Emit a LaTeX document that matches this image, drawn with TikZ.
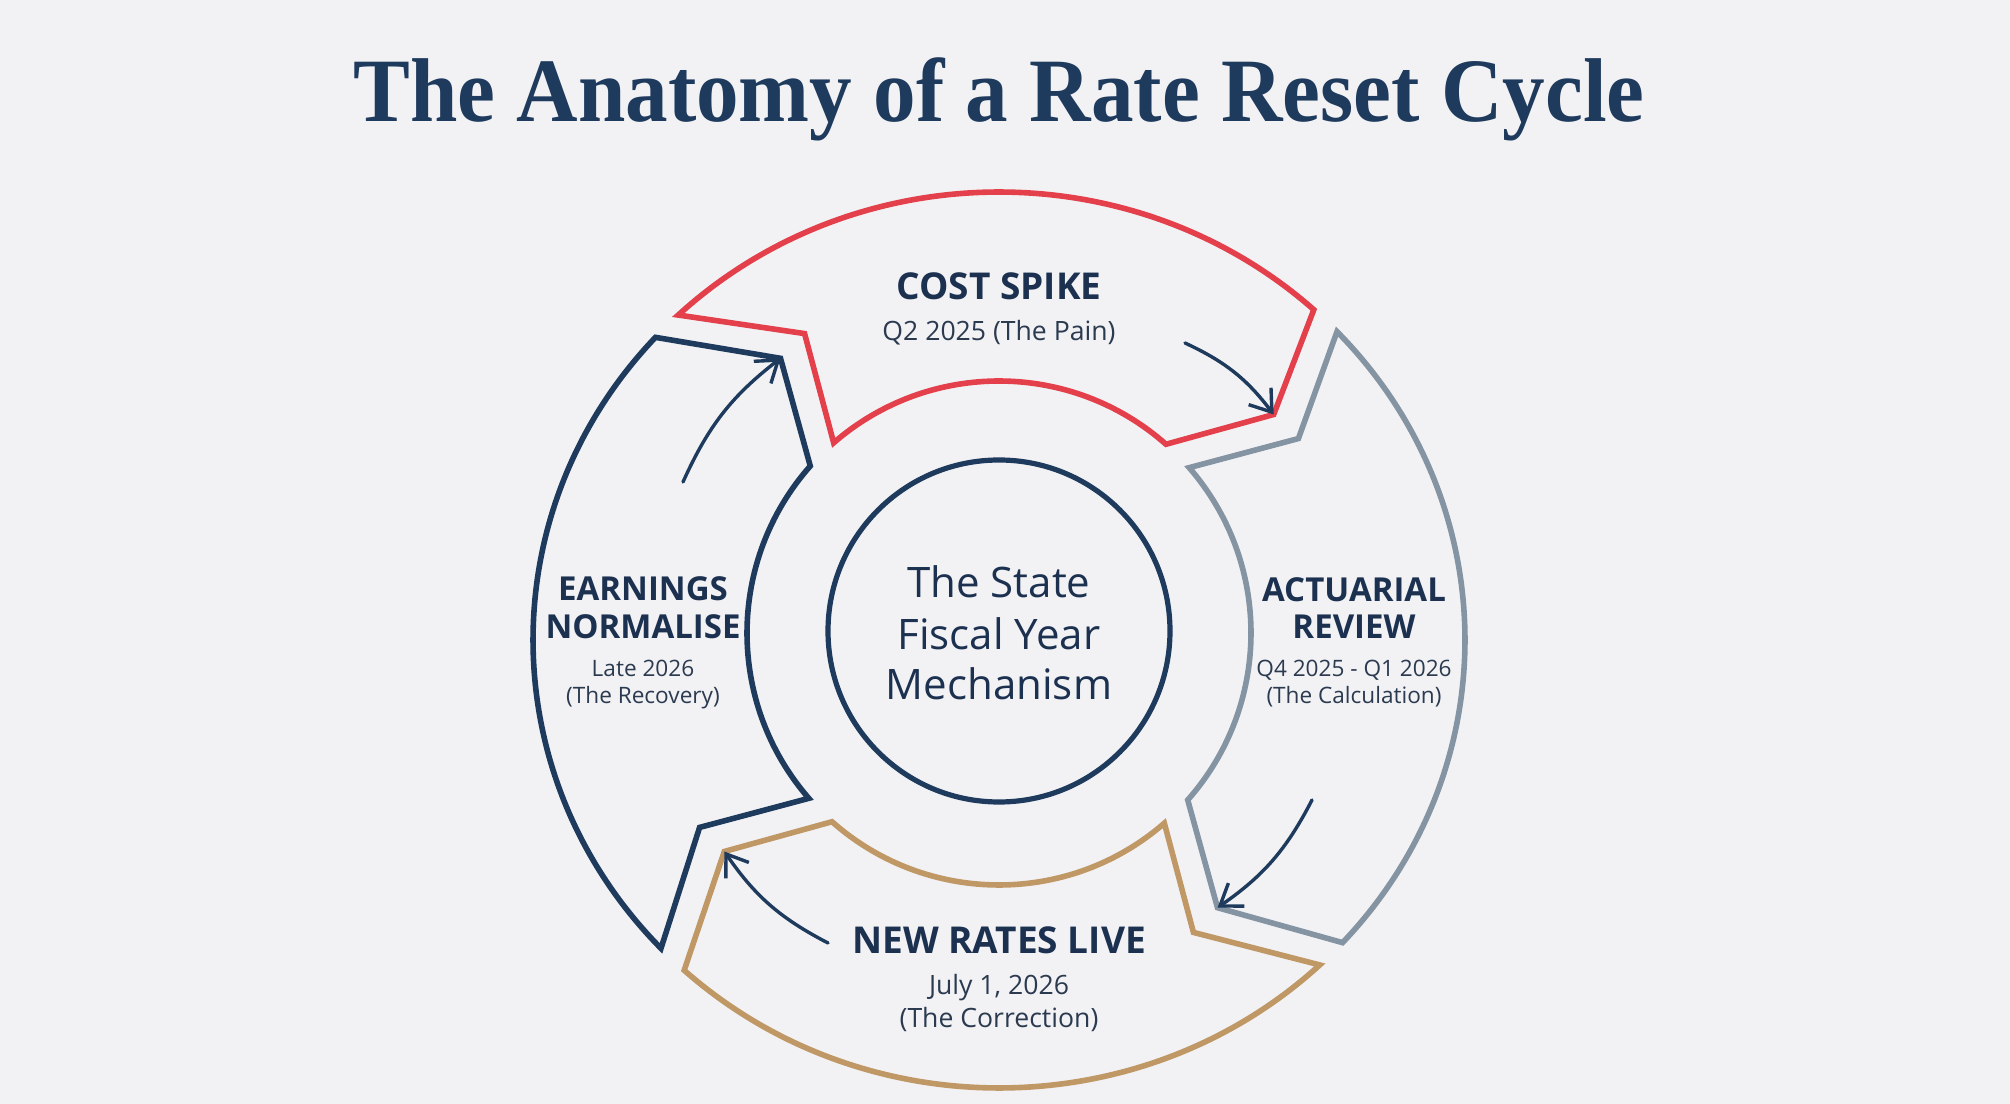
\documentclass[tikz,border=0pt]{standalone}
\usepackage{fontspec}
\setmainfont{Liberation Serif}
\newfontfamily\notosans{Open Sans}
\usetikzlibrary{arrows.meta}
\definecolor{bgc}{HTML}{F2F2F5}
\definecolor{navy}{HTML}{1E3A5C}
\definecolor{redc}{HTML}{E3404B}
\definecolor{grayc}{HTML}{8494A3}
\definecolor{goldc}{HTML}{BF9866}
\definecolor{txt}{HTML}{1C3150}
\definecolor{subtxt}{HTML}{2B3A4F}
\newcommand\ringseg[2]{%
  \draw[seg, draw=#2]
    ({999+466*cos(#1+42.5)},{464+448*sin(#1+42.5)})
    arc[start angle=#1+42.5, end angle=#1-43.5, x radius=466, y radius=448]
    -- ({999+351*cos(#1-52.5)},{471+351*sin(#1-52.5)})
    -- ({999+252*cos(#1-42.5)},{471+252*sin(#1-42.5)})
    arc[start angle=#1-42.5, end angle=#1+40, radius=252]
    -- ({999+357*cos(#1+32)},{471+357*sin(#1+32)})
    -- cycle;}
\begin{document}
\begin{tikzpicture}[x=0.5pt,y=0.5pt,
  seg/.style={line width=2.8pt, line join=miter, fill=bgc},
  flowarrow/.style={draw=navy, line width=1.7pt, line cap=round,
    -{Straight Barb[length=10pt,width=14pt]}},
  ttl/.style={font=\fontsize{45.3}{50}\selectfont\bfseries, text=navy, anchor=base, inner sep=0pt},
  bighead/.style={font=\notosans\bfseries\fontsize{18.5}{22}\selectfont, text=txt, anchor=base, inner sep=0pt},
  sidehead/.style={font=\notosans\bfseries\fontsize{16.5}{20}\selectfont, text=txt, anchor=base, inner sep=0pt},
  bigsub/.style={font=\notosans\fontsize{13.3}{16}\selectfont, text=subtxt, anchor=base, inner sep=0pt},
  sidesub/.style={font=\notosans\fontsize{11.3}{14}\selectfont, text=subtxt, anchor=base, inner sep=0pt},
  centertxt/.style={font=\notosans\fontsize{21}{25}\selectfont, text=txt, anchor=base, inner sep=0pt}
]
\useasboundingbox (0,0) rectangle (2010,1104);
\fill[bgc] (0,0) rectangle (2010,1104);

% title
\node[ttl] (title) at (999,982) {\scalebox{0.94}[1]{The Anatomy of a Rate Reset Cycle}};

% ring segments
\ringseg{91}{redc}
\ringseg{1}{grayc}
\ringseg{-89}{goldc}
\ringseg{-179}{navy}

% centre circle
\node[draw=navy, line width=2.6pt, circle, minimum size=342pt*0.5, inner sep=0pt] (hub) at (999,473) {};
\node[centertxt] (hub1) at (999,506) {The State};
\node[centertxt] (hub2) at (999,454) {Fiscal Year};
\node[centertxt] (hub3) at (999,404) {Mechanism};

% labels: top
\node[bighead] (costh) at (999,804) {COST SPIKE};
\node[bigsub] (costs) at (999,763) {Q2 2025 (The Pain)};
% right
\node[sidehead] (acth1) at (1354,502) {ACTUARIAL};
\node[sidehead] (acth2) at (1354,465) {REVIEW};
\node[sidesub] (acts1) at (1354,427) {Q4 2025 - Q1 2026};
\node[sidesub] (acts2) at (1354,400) {(The Calculation)};
% bottom
\node[bighead] (newh) at (999,150) {NEW RATES LIVE};
\node[bigsub] (news1) at (999,109) {July 1, 2026};
\node[bigsub] (news2) at (999,76) {(The Correction)};
% left
\node[sidehead] (earnh1) at (643,503) {EARNINGS};
\node[sidehead] (earnh2) at (643,465) {NORMALISE};
\node[sidesub] (earns1) at (643,427) {Late 2026};
\node[sidesub] (earns2) at (643,400) {(The Recovery)};

% arrow tips and starts
\coordinate (redtip) at ({999+351*cos(38.5)},{471+351*sin(38.5)});
\coordinate (graytip) at ({999+351*cos(-51.5)},{471+351*sin(-51.5)});
\coordinate (goldtip) at ({999+351*cos(-141.5)},{471+351*sin(-141.5)});
\coordinate (navytip) at ({999+351*cos(128.5)},{471+351*sin(128.5)});
\coordinate (redst) at (1185,761);
\coordinate (grayst) at (1312,304);
\coordinate (goldst) at (828,161);
\coordinate (navyst) at (683,622);

\draw[flowarrow] (redst) to[bend left=14] (redtip);
\draw[flowarrow] (grayst) to[bend left=14] (graytip);
\draw[flowarrow] (goldst) to[bend left=14] (goldtip);
\draw[flowarrow] (navyst) to[bend left=14] (navytip);
\end{tikzpicture}
\end{document}
